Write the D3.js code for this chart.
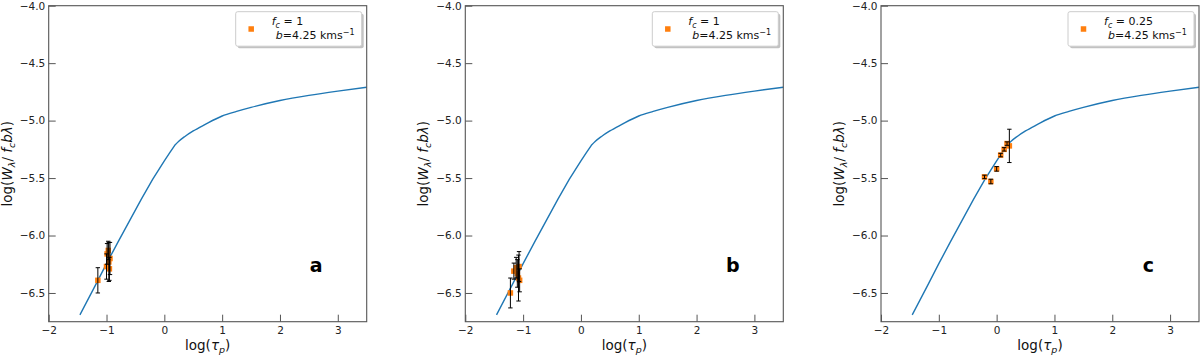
<!DOCTYPE html>
<html><head><meta charset="utf-8">
<script src="https://cdn.jsdelivr.net/npm/d3@7"></script>
<style>
body{margin:0;background:#fff;}
svg{display:block;font-family:"DejaVu Sans",sans-serif;}
</style></head>
<body><svg id="chart" width="1200" height="355"></svg>
<script>
// ---- data ----
const curveX = [-1.46,-1.2,-1.0,-0.8,-0.6,-0.4,-0.2,0.0,0.1,0.18,0.25,0.35,0.5,0.7,1.0,1.25,1.5,2.0,2.5,3.0,3.5];
const curveY = [-6.69,-6.44,-6.245,-6.055,-5.87,-5.685,-5.51,-5.35,-5.275,-5.215,-5.18,-5.14,-5.09,-5.035,-4.96,-4.92,-4.885,-4.825,-4.78,-4.743,-4.71];
const kinkX = 0.18;

const aX   = [-1.15,-1.00,-0.99,-0.97,-0.96,-0.95,-0.94];
const aY   = [-6.39,-6.27,-6.16,-6.13,-6.23,-6.29,-6.20];
const aErr = [0.11,0.11,0.09,0.08,0.17,0.10,0.14];

const bX   = [-1.22,-1.16,-1.12,-1.10,-1.08,-1.07,-1.06];
const bY   = [-6.50,-6.31,-6.28,-6.33,-6.37,-6.27,-6.39];
const bErr = [0.13,0.07,0.09,0.12,0.20,0.13,0.10];

const cX   = [-0.21,-0.10,0.00,0.07,0.13,0.18,0.22];
const cY   = [-5.49,-5.53,-5.42,-5.30,-5.25,-5.20,-5.22];
const cErr = [0.015,0.02,0.02,0.015,0.015,0.015,0.145];

const panelLetters = ["a","b","c"];
const legendFc = ["1","1","0.25"];
const legendB = "4.25";
const xTicks = [-2,-1,0,1,2,3];
const yTicks = [-6.5,-6.0,-5.5,-5.0,-4.5,-4.0];
const xDomain = [-2,3.5];
const yDomain = [-6.75,-4.0];

const panels = [
  {x:aX,y:aY,e:aErr},
  {x:bX,y:bY,e:bErr},
  {x:cX,y:cY,e:cErr}
];

// ---- layout ----
const svg = d3.select("#chart");
const lefts = [48.7, 465.3, 881];
const W = 318, plotTop = 5.7, plotBottom = 321.7;
const frameColor = "#555";

panels.forEach((p,i)=>{
  const L = lefts[i];
  const x = d3.scaleLinear().domain(xDomain).range([L, L+W]);
  const y = d3.scaleLinear().domain(yDomain).range([plotBottom, plotTop]);
  const g = svg.append("g");

  // curve: straight segments up to the kink, smooth beyond
  const pts = curveX.map((v,k)=>[v,curveY[k]]);
  const seg1 = pts.filter(d=>d[0]<=kinkX), seg2 = pts.filter(d=>d[0]>=kinkX);
  const lineLin = d3.line().x(d=>x(d[0])).y(d=>y(d[1]));
  const lineSm = d3.line().x(d=>x(d[0])).y(d=>y(d[1])).curve(d3.curveMonotoneX);
  g.append("path").attr("d", lineLin(seg1) + lineSm(seg2).replace(/^M[^A-Za-z]*/, m=>"L"+m.slice(1)))
    .attr("fill","none").attr("stroke","#1f77b4").attr("stroke-width",1.4)
    .attr("stroke-linejoin","round");

  // markers
  const data = p.x.map((v,k)=>({x:v,y:p.y[k],e:p.e[k]}));
  const ms = 5.5;
  g.selectAll("rect.m").data(data).enter().append("rect")
    .attr("x",d=>x(d.x)-ms/2).attr("y",d=>y(d.y)-ms/2)
    .attr("width",ms).attr("height",ms).attr("fill","#ff7f0e");
  // error bars
  const eb = g.selectAll("g.eb").data(data).enter().append("g")
    .attr("stroke","#000").attr("stroke-width",1);
  eb.append("line").attr("x1",d=>x(d.x)).attr("x2",d=>x(d.x))
    .attr("y1",d=>y(d.y-d.e)).attr("y2",d=>y(d.y+d.e));
  eb.append("line").attr("x1",d=>x(d.x)-2.2).attr("x2",d=>x(d.x)+2.2)
    .attr("y1",d=>y(d.y-d.e)).attr("y2",d=>y(d.y-d.e));
  eb.append("line").attr("x1",d=>x(d.x)-2.2).attr("x2",d=>x(d.x)+2.2)
    .attr("y1",d=>y(d.y+d.e)).attr("y2",d=>y(d.y+d.e));

  // axes
  const ax = g.append("g").attr("transform",`translate(0,${plotBottom})`)
    .call(d3.axisBottom(x).tickValues(xTicks).tickSize(-7).tickPadding(4.5).tickFormat(d3.format("d")));
  const ay = g.append("g").attr("transform",`translate(${L},0)`)
    .call(d3.axisLeft(y).tickValues(yTicks).tickSize(-7).tickPadding(3.5).tickFormat(d3.format(".1f")));
  [ax,ay].forEach(a=>{
    a.select(".domain").remove();
    a.selectAll("line").attr("stroke",frameColor).attr("stroke-width",1);
    a.selectAll("text").attr("font-size",10.5).attr("fill","#222")
      .attr("font-family","DejaVu Sans");
  });
  // frame
  g.append("rect").attr("x",L).attr("y",plotTop).attr("width",W).attr("height",plotBottom-plotTop)
    .attr("fill","none").attr("stroke",frameColor).attr("stroke-width",1.1);

  // x label
  const xl = g.append("text").attr("x",L+W/2).attr("y",349.5).attr("text-anchor","middle")
    .attr("font-size",13.5).attr("fill","#111");
  xl.append("tspan").text("log(");
  xl.append("tspan").attr("font-style","italic").text("τ");
  xl.append("tspan").attr("font-style","italic").attr("font-size",9.5).attr("dy",3).text("p");
  xl.append("tspan").attr("dy",-3).text(")");

  // y label
  const yl = g.append("text").attr("transform",`translate(${L-37},${(plotTop+plotBottom)/2}) rotate(-90)`)
    .attr("text-anchor","middle").attr("font-size",13.5).attr("fill","#111");
  yl.append("tspan").text("log(");
  yl.append("tspan").attr("font-style","italic").text("W");
  yl.append("tspan").attr("font-style","italic").attr("font-size",9.5).attr("dy",3).text("λ");
  yl.append("tspan").attr("dy",-3).text("/ ");
  yl.append("tspan").attr("font-style","italic").text("f");
  yl.append("tspan").attr("font-style","italic").attr("font-size",9.5).attr("dy",3).text("c");
  yl.append("tspan").attr("font-style","italic").attr("dy",-3).text("bλ");
  yl.append("tspan").text(")");

  // panel letter
  g.append("text").attr("x",L+267.5).attr("y",272).attr("text-anchor","middle")
    .attr("font-size",19).attr("font-weight","bold").attr("font-family","DejaVu Sans")
    .attr("fill","#000").text(panelLetters[i]);

  // legend
  const lw = 126, lh = 34.5, lx = L+W-5-lw, ly = plotTop+6;
  g.append("rect").attr("x",lx+2).attr("y",ly+2).attr("width",lw).attr("height",lh)
    .attr("rx",2).attr("fill","#999").attr("opacity",0.6);
  g.append("rect").attr("x",lx).attr("y",ly).attr("width",lw).attr("height",lh)
    .attr("rx",2).attr("fill","#fff").attr("stroke","#ccc").attr("stroke-width",1);
  g.append("rect").attr("x",lx+15.5-2.75).attr("y",ly+17.3-2.75).attr("width",5.5).attr("height",5.5)
    .attr("fill","#ff7f0e");
  const t1 = g.append("text").attr("x",lx+36).attr("y",ly+13.5).attr("font-size",11).attr("fill","#111");
  t1.append("tspan").attr("font-style","italic").text("f");
  t1.append("tspan").attr("font-style","italic").attr("font-size",8).attr("dy",2.5).text("c");
  t1.append("tspan").attr("dy",-2.5).text(" = "+legendFc[i]);
  const t2 = g.append("text").attr("x",lx+40).attr("y",ly+27).attr("font-size",11).attr("fill","#111");
  t2.append("tspan").attr("font-style","italic").text("b");
  t2.append("tspan").text("="+legendB+" kms");
  t2.append("tspan").attr("font-size",8).attr("dy",-4).text("−1");
});
</script></body></html>
